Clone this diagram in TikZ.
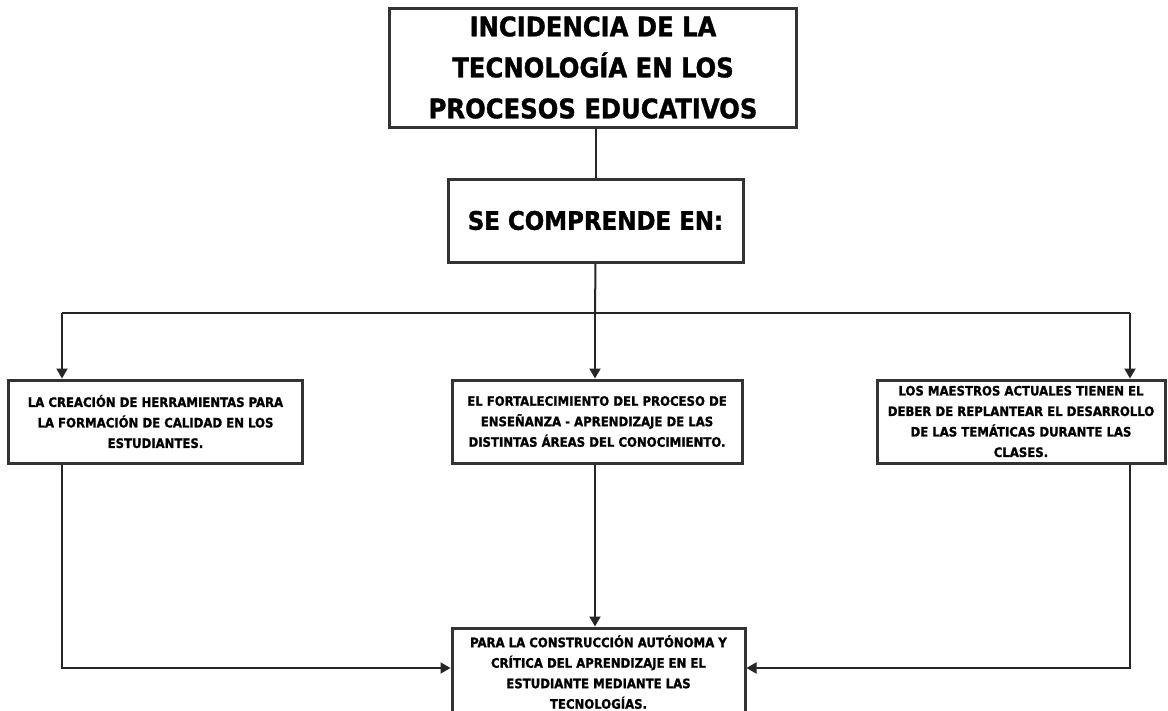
\documentclass[tikz,border=0pt]{standalone}
\usepackage{fontspec}
\setmainfont{DejaVu Sans Condensed}[BoldFeatures={FakeBold=1.2}]
\usetikzlibrary{arrows.meta}
\begin{document}
\begin{tikzpicture}
[x=1pt,y=-1pt,
  cajadecorate/.style={shape=rectangle,draw=black!80,line width=3pt,align=center,inner sep=0pt,font=\bfseries},%
  titulodecorate/.style={cajadecorate,minimum width=407pt,minimum height=119pt,font=\bfseries\fontsize{27}{41}\selectfont},%
  textodecorate/.style={cajadecorate,minimum height=83pt,font=\bfseries\fontsize{13}{20.5}\selectfont},%
  linedecorate/.style={-,line width=2pt,black!85},%
  flechadecorate/.style={linedecorate,-{Triangle[length=10pt,width=11pt]}}]
\useasboundingbox[fill=white] (0,0) rectangle (1168,710);
%%% mapa de la incidencia de la tecnologia
% nodes or boxes
\node (titulo) at (593,67.5) [titulodecorate] {INCIDENCIA DE LA\\TECNOLOGÍA EN LOS\\PROCESOS EDUCATIVOS};
\node (comprende) at (595.5,220.5) [cajadecorate,minimum width=295pt,minimum height=83pt,font=\bfseries\fontsize{25.5}{30}\selectfont] {SE COMPRENDE EN:};
\node (izq) at (155.5,421.5) [textodecorate,minimum width=294pt] {LA CREACIÓN DE HERRAMIENTAS PARA\\LA FORMACIÓN DE CALIDAD EN LOS\\ESTUDIANTES.};
\node (centro) at (597,421.5) [textodecorate,minimum width=290pt] {EL FORTALECIMIENTO DEL PROCESO DE\\ENSEÑANZA - APRENDIZAJE DE LAS\\DISTINTAS ÁREAS DEL CONOCIMIENTO.};
\node (der) at (1021,421.5) [textodecorate,minimum width=288pt] {LOS MAESTROS ACTUALES TIENEN EL\\DEBER DE REPLANTEAR EL DESARROLLO\\DE LAS TEMÁTICAS DURANTE LAS\\CLASES.};
\node (final) at (598.5,672) [textodecorate,minimum width=293pt,minimum height=88pt] {PARA LA CONSTRUCCIÓN AUTÓNOMA Y\\CRÍTICA DEL APRENDIZAJE EN EL\\ESTUDIANTE MEDIANTE LAS\\TECNOLOGÍAS.};
% corners of the connectors
\coordinate (rama) at (595,313);
\coordinate (ramaizq) at (62,313);
\coordinate (ramader) at (1130,313);
\coordinate (bajaizq) at (62,668);
\coordinate (bajader) at (1130,668);
% edges or lines
\path
(titulo.south -| comprende) edge[linedecorate] (comprende.north)
(comprende.south) edge[linedecorate] (rama)
(ramaizq) edge[linedecorate] (ramader)
(ramaizq) edge[flechadecorate] (ramaizq |- izq.north)
(rama) edge[flechadecorate] (rama |- centro.north)
(ramader) edge[flechadecorate] (ramader |- der.north)
(centro.south -| rama) edge[flechadecorate] (final.north -| rama);
\draw[flechadecorate] (izq.south -| bajaizq) -- (bajaizq) -- (bajaizq -| final.west);
\draw[flechadecorate] (der.south -| bajader) -- (bajader) -- (bajader -| final.east);
\end{tikzpicture}
\end{document}
